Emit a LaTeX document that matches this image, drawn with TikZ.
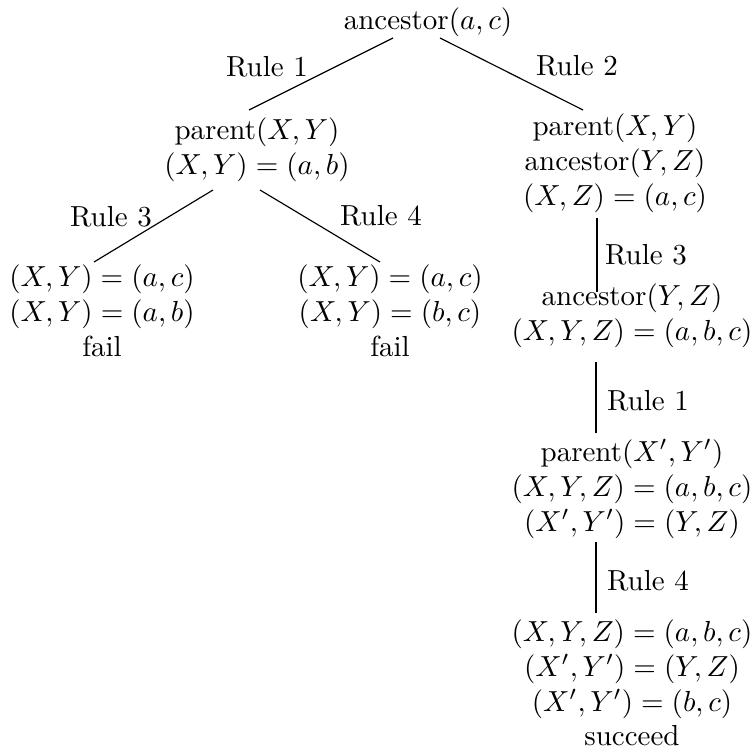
\documentclass[tikz,border=0pt]{standalone}
\usetikzlibrary{calc}
\begin{document}
\begin{tikzpicture}[x=0.3448pt,y=-0.3448pt,
  every node/.style={inner sep=0pt, align=center},
  treenode/.style={},
  rulelabel/.style={},
  branch/.style={draw, line width=0.4pt}]
\useasboundingbox (0,0) rectangle (752,749);
% nodes
\node[treenode] (top) at (428,22) {ancestor$(a,c)$};
\node[treenode] (L) at (257,149.5) {parent$(X,Y)$\\$(X,Y)=(a,b)$};
\node[treenode] (R) at (615,163) {parent$(X,Y)$\\ancestor$(Y,Z)$\\$(X,Z)=(a,c)$};
\node[treenode] (LL) at (102,311) {$(X,Y)=(a,c)$\\$(X,Y)=(a,b)$\\fail};
\node[treenode] (LR) at (390,311) {$(X,Y)=(a,c)$\\$(X,Y)=(b,c)$\\fail};
\node[treenode] (R2) at (632,316) {ancestor$(Y,Z)$\\$(X,Y,Z)=(a,b,c)$};
\node[treenode] (R3) at (632,489) {parent$(X',Y')$\\$(X,Y,Z)=(a,b,c)$\\$(X',Y')=(Y,Z)$};
\node[treenode] (R4) at (632,683) {$(X,Y,Z)=(a,b,c)$\\$(X',Y')=(Y,Z)$\\$(X',Y')=(b,c)$\\succeed};
% labels
\node[rulelabel] (l1) at (267,67) {Rule 1};
\node[rulelabel] (l2) at (577,66) {Rule 2};
\node[rulelabel] (l3) at (111,217) {Rule 3};
\node[rulelabel] (l4) at (381,216) {Rule 4};
\node[rulelabel] (l5) at (646,255) {Rule 3};
\node[rulelabel] (l6) at (648,401) {Rule 1};
\node[rulelabel] (l7) at (648,581) {Rule 4};
% connectors
\draw[branch] ($(top)+(-35,16)$) -- ($(L)+(-8,-39.5)$);
\draw[branch] ($(top)+(12,16)$) -- ($(R)+(-32,-53)$);
\draw[branch] ($(L)+(-44,40.5)$) -- ($(LL)+(-8,-49)$);
\draw[branch] ($(L)+(3,40.5)$) -- ($(LR)+(-10,-49)$);
\draw[branch] ($(R)+(-18,55)$) -- ($(R2)+(-35,-24)$);
\draw[branch] ($(R2)+(-36,46)$) -- ($(R3)+(-36,-56)$);
\draw[branch] ($(R3)+(-36,53)$) -- ($(R4)+(-36,-70)$);
\end{tikzpicture}
\end{document}
